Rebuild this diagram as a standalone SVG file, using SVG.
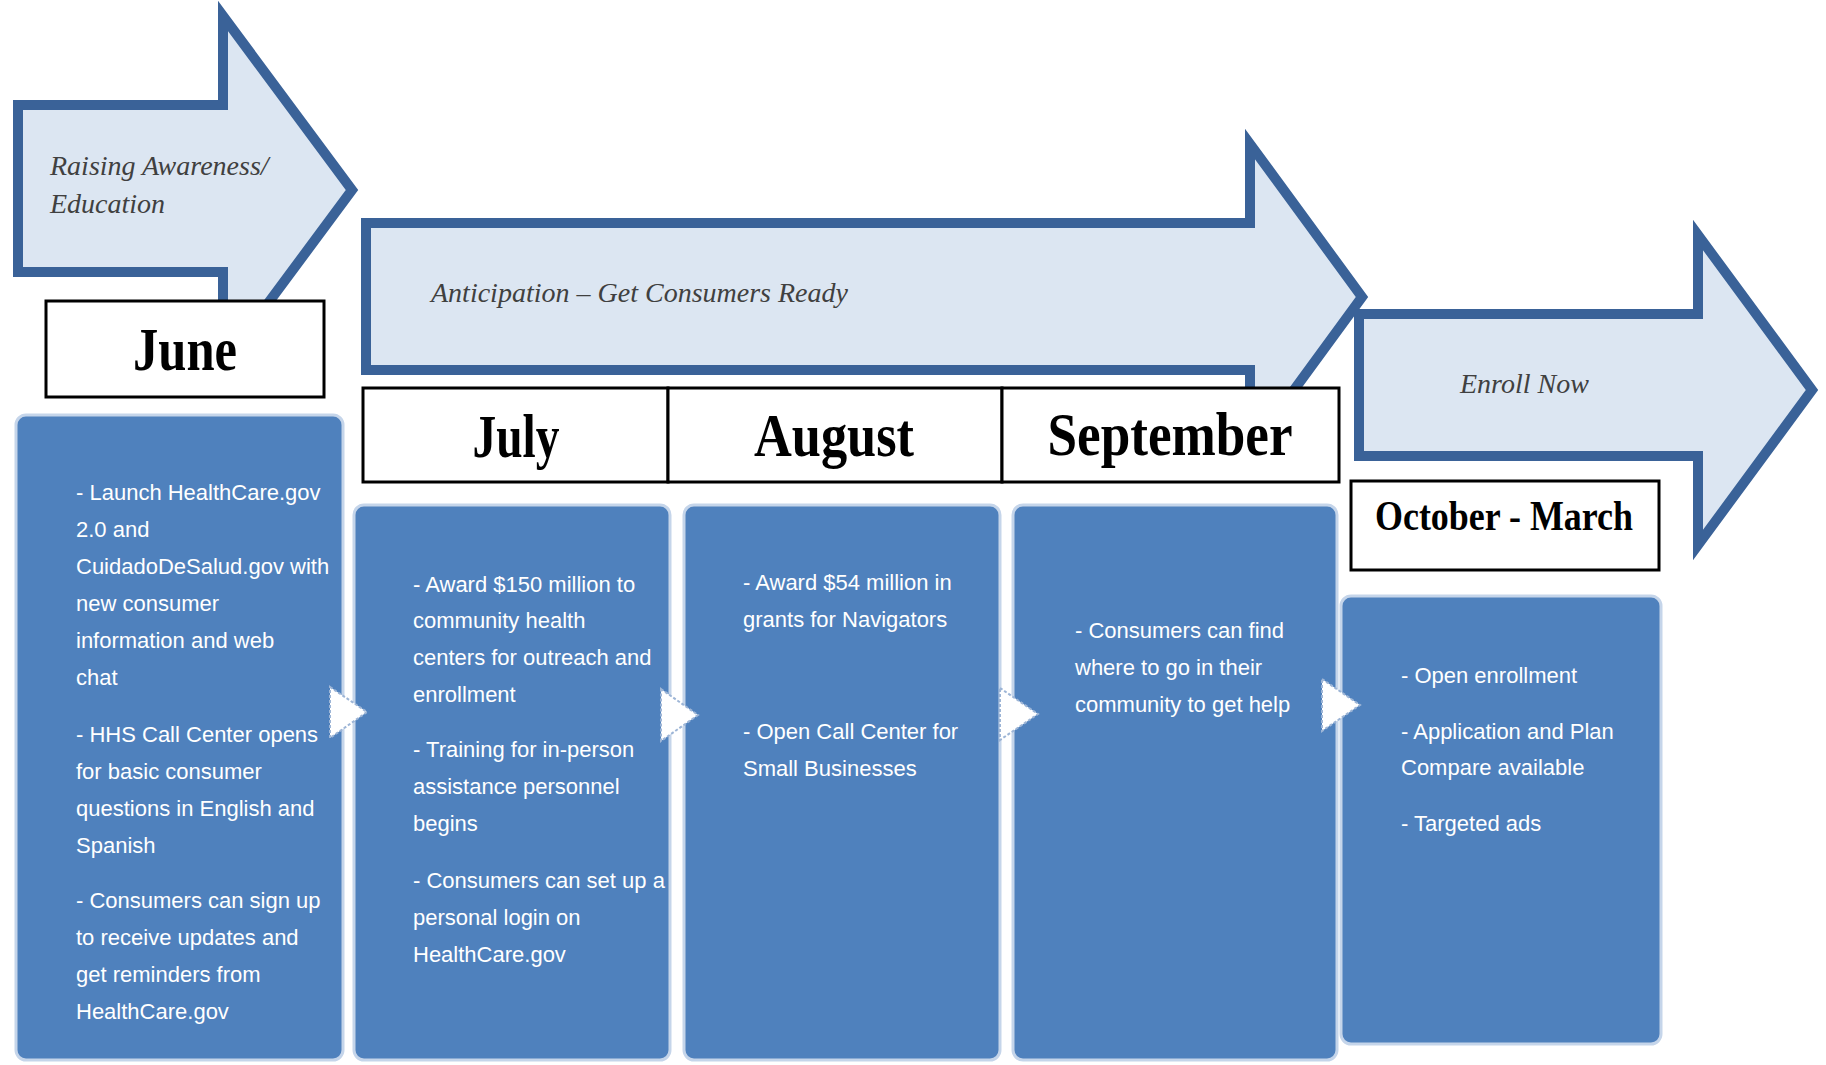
<svg xmlns="http://www.w3.org/2000/svg" width="1826" height="1065" viewBox="0 0 1826 1065">
<style>
.arrow{fill:#DCE6F2;stroke:#3A6298;stroke-width:10;stroke-linejoin:miter}
.phase{font-family:"Liberation Serif",serif;font-style:italic;font-size:28px;fill:#404040}
.mbox{fill:#FFFFFF;stroke:#000000;stroke-width:3}
.month{font-family:"Liberation Serif",serif;font-weight:bold;font-size:62px;fill:#000000;text-anchor:middle}
.card{fill:#4F81BD;stroke:#C5D5EA;stroke-width:3}
.body{font-family:"Liberation Sans",Arial,sans-serif;font-size:22px;fill:#FFFFFF}
.tri{fill:#FFFFFF;stroke:#9DB5D6;stroke-width:2;stroke-dasharray:3 2}
</style>
<rect width="1826" height="1065" fill="#FFFFFF"/>

<g id="phase-awareness">
<polygon class="arrow" points="18,105 223,105 223,16 352,190 223,364 223,272 18,272"/>
<text class="phase" x="50" y="175">Raising Awareness/</text>
<text class="phase" x="50" y="213">Education</text>
</g>

<g id="phase-anticipation">
<polygon class="arrow" points="366,223 1250,223 1250,144 1362,297 1250,450 1250,370 366,370"/>
<text class="phase" x="431" y="302" textLength="417" lengthAdjust="spacingAndGlyphs">Anticipation – Get Consumers Ready</text>
</g>

<g id="phase-enroll">
<polygon class="arrow" points="1359,314 1698,314 1698,235 1812,390 1698,545 1698,456 1359,456"/>
<text class="phase" x="1460" y="393">Enroll Now</text>
</g>

<g id="month-june">
<rect class="mbox" x="46" y="301" width="278" height="96"/>
<text class="month" x="185" y="370" textLength="104" lengthAdjust="spacingAndGlyphs">June</text>
</g>

<g id="month-july">
<rect class="mbox" x="363" y="388" width="305" height="94"/>
<text class="month" x="516" y="457" textLength="87" lengthAdjust="spacingAndGlyphs">July</text>
</g>

<g id="month-august">
<rect class="mbox" x="668" y="388" width="334" height="94"/>
<text class="month" x="834" y="456" textLength="160" lengthAdjust="spacingAndGlyphs">August</text>
</g>

<g id="month-september">
<rect class="mbox" x="1002" y="388" width="337" height="94"/>
<text class="month" x="1170" y="455" textLength="245" lengthAdjust="spacingAndGlyphs">September</text>
</g>

<g id="month-october-march">
<rect class="mbox" x="1351" y="481" width="308" height="89"/>
<text class="month" x="1504" y="530" style="font-size:42px" textLength="258" lengthAdjust="spacingAndGlyphs">October - March</text>
</g>

<g id="card-june">
<rect class="card" x="16" y="415" width="327" height="645" rx="10"/>
<text class="body" x="76" y="500">- Launch HealthCare.gov</text>
<text class="body" x="76" y="537">2.0 and</text>
<text class="body" x="76" y="574">CuidadoDeSalud.gov with</text>
<text class="body" x="76" y="611">new consumer</text>
<text class="body" x="76" y="648">information and web</text>
<text class="body" x="76" y="685">chat</text>
<text class="body" x="76" y="742">- HHS Call Center opens</text>
<text class="body" x="76" y="779">for basic consumer</text>
<text class="body" x="76" y="816">questions in English and</text>
<text class="body" x="76" y="853">Spanish</text>
<text class="body" x="76" y="908">- Consumers can sign up</text>
<text class="body" x="76" y="945">to receive updates and</text>
<text class="body" x="76" y="982">get reminders from</text>
<text class="body" x="76" y="1019">HealthCare.gov</text>
</g>

<g id="card-july">
<rect class="card" x="354" y="505" width="316" height="555" rx="10"/>
<text class="body" x="413" y="592">- Award $150 million to</text>
<text class="body" x="413" y="628">community health</text>
<text class="body" x="413" y="665">centers for outreach and</text>
<text class="body" x="413" y="702">enrollment</text>
<text class="body" x="413" y="757">- Training for in-person</text>
<text class="body" x="413" y="794">assistance personnel</text>
<text class="body" x="413" y="831">begins</text>
<text class="body" x="413" y="888">- Consumers can set up a</text>
<text class="body" x="413" y="925">personal login on</text>
<text class="body" x="413" y="962">HealthCare.gov</text>
</g>

<g id="card-august">
<rect class="card" x="684" y="505" width="316" height="555" rx="10"/>
<text class="body" x="743" y="590">- Award $54 million in</text>
<text class="body" x="743" y="627">grants for Navigators</text>
<text class="body" x="743" y="739">- Open Call Center for</text>
<text class="body" x="743" y="776">Small Businesses</text>
</g>

<g id="card-september">
<rect class="card" x="1013" y="505" width="324" height="555" rx="10"/>
<text class="body" x="1075" y="638">- Consumers can find</text>
<text class="body" x="1075" y="675">where to go in their</text>
<text class="body" x="1075" y="712">community to get help</text>
</g>

<g id="card-october-march">
<rect class="card" x="1341" y="596" width="320" height="448" rx="10"/>
<text class="body" x="1401" y="683">- Open enrollment</text>
<text class="body" x="1401" y="739">- Application and Plan</text>
<text class="body" x="1401" y="775">Compare available</text>
<text class="body" x="1401" y="831">- Targeted ads</text>
</g>

<g id="connectors">
<polygon class="tri" points="330,687 367,712 330,738"/>
<polygon class="tri" points="661,689 698,715 661,741"/>
<polygon class="tri" points="1000,688 1038,714 1000,740"/>
<polygon class="tri" points="1322,679 1360,705 1322,731"/>
</g>
</svg>
